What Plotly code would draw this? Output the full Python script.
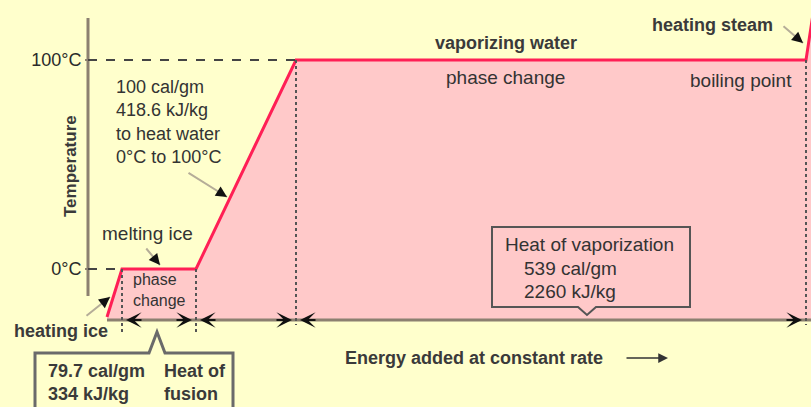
import math
import plotly.graph_objects as go

# ---------------- data ----------------
stages = ["heating ice", "melting ice", "heating water", "vaporizing water", "heating steam"]
energy = [0, 15, 89, 189, 699, 706]          # cumulative energy added (schematic units)
temperature = [-23, 0, 0, 100, 100, 122]     # °C
tick_vals = [0, 100]
tick_text = ["0°C", "100°C"]
base_temp = -24.4                            # level of the energy axis

# ---------------- style / layout ----------------
W, H = 811, 407
X_RANGE = [-107, 704]
Y_RANGE = [-66.03, 128.71]
CREAM = "#FFFFCC"
PINK = "#FFC9C9"
RED = "#FF1F55"
AXIS = "#8C8070"
TXT = "#333333"
FONT = "Liberation Sans, Arial, sans-serif"


def ex(px):
    return X_RANGE[0] + px * (X_RANGE[1] - X_RANGE[0]) / W


def ty(py):
    return Y_RANGE[1] - py * (Y_RANGE[1] - Y_RANGE[0]) / H


def to_px(e):
    return (e - X_RANGE[0]) * W / (X_RANGE[1] - X_RANGE[0])


fig = go.Figure()

# pink area under the curve
fig.add_trace(go.Scatter(
    x=energy + [energy[-1], energy[0]],
    y=temperature + [base_temp, base_temp],
    fill="toself", fillcolor=PINK, mode="lines",
    line=dict(width=0), hoverinfo="skip", showlegend=False))

shapes = []
ann = []

# axes lines
shapes.append(dict(type="line", xref="x", yref="y", x0=ex(88), x1=ex(88), y0=ty(18), y1=ty(296),
                   line=dict(color=AXIS, width=3)))
shapes.append(dict(type="line", xref="x", yref="y", x0=energy[0], x1=X_RANGE[1], y0=base_temp, y1=base_temp,
                   line=dict(color=AXIS, width=3)))

# dashed guides from temperature axis
shapes.append(dict(type="line", xref="x", yref="y", x0=ex(88), x1=energy[3], y0=tick_vals[1], y1=tick_vals[1],
                   line=dict(color="#444", width=2, dash="dash")))
shapes.append(dict(type="line", xref="x", yref="y", x0=ex(88), x1=energy[1], y0=tick_vals[0], y1=tick_vals[0],
                   line=dict(color="#444", width=2, dash="dash")))

# dotted verticals at stage boundaries
for i, low in [(1, ty(333)), (2, ty(333)), (3, ty(325)), (4, ty(325))]:
    shapes.append(dict(type="line", xref="x", yref="y", x0=energy[i], x1=energy[i],
                       y0=temperature[i], y1=low, line=dict(color="#555", width=2, dash="dot")))

# vaporization callout box
vb = [(492, 227), (690, 227), (690, 307), (596, 307), (587, 315), (578, 307), (492, 307)]
path = "M " + " L ".join(f"{ex(a):.2f},{ty(b):.2f}" for a, b in vb) + " Z"
shapes.append(dict(type="path", xref="x", yref="y", path=path, fillcolor=PINK,
                   line=dict(color="#555", width=2)))

# fusion callout box
fb = [(35, 440), (35, 353), (149, 353), (157, 332), (165, 353), (233, 353), (233, 440)]
path = "M " + " L ".join(f"{ex(a):.2f},{ty(b):.2f}" for a, b in fb)
shapes.append(dict(type="path", xref="x", yref="y", path=path, fillcolor=CREAM,
                   line=dict(color="#6a6a6a", width=3)))

# heating curve
fig.add_trace(go.Scatter(x=energy, y=temperature, mode="lines",
                         line=dict(color=RED, width=3), hoverinfo="skip", showlegend=False))


def text(px, py, s, size=18, bold=False, xanchor="center", align="center", color=TXT, angle=0):
    ann.append(dict(x=ex(px), y=ty(py), xref="x", yref="y", text=s, showarrow=False,
                    xanchor=xanchor, yanchor="middle", align=align, textangle=angle,
                    font=dict(family=FONT, size=size, color=color,
                              weight="bold" if bold else "normal")))


def pointer(hx, hy, tx, tyy):
    ann.append(dict(x=ex(hx), y=ty(hy), xref="x", yref="y", axref="pixel", ayref="pixel",
                    ax=tx - hx, ay=tyy - hy, text="", showarrow=True, arrowhead=0,
                    arrowwidth=2, arrowcolor="#b5ad98", standoff=0))
    d = math.hypot(tx - hx, tyy - hy)
    ux, uy = (tx - hx) / d, (tyy - hy) / d
    ann.append(dict(x=ex(hx), y=ty(hy), xref="x", yref="y", axref="pixel", ayref="pixel",
                    ax=ux * 12, ay=uy * 12, text="", showarrow=True, arrowhead=2,
                    arrowsize=1.1, arrowwidth=2, arrowcolor="#111", standoff=0))


def base_head(tip_px, direction):
    ann.append(dict(x=ex(tip_px), y=base_temp, xref="x", yref="y", axref="pixel", ayref="pixel",
                    ax=-direction * 17, ay=0, text="", showarrow=True, arrowhead=3,
                    arrowsize=1.3, arrowwidth=2, arrowcolor="#111", standoff=0))


# arrowheads along the energy axis for each stage span
for i in (1, 2, 3):
    a, b = to_px(energy[i]), to_px(energy[i + 1])
    base_head(a + 4, -1)
    base_head(b - 4, 1)

# labels
text(114, 122, "100 cal/gm<br>418.6 kJ/kg<br>to heat water<br>0°C to 100°C", size=18,
     xanchor="left", align="left")
pointer(227, 197, 187, 172)
text(147, 233, "melting ice", size=19)
pointer(160, 265, 145, 247)
text(131, 290, "phase<br>change", size=16, xanchor="left", align="left")
text(61, 331, "heating ice", size=18, bold=True, color="#3a3a3a")
pointer(110, 297, 85, 317)
text(506, 43, "vaporizing water", size=18, bold=True, color="#3a3a3a")
text(505, 77, "phase change", size=19)
text(741, 80, "boiling point", size=19)
text(712, 25, "heating steam", size=18, bold=True, color="#3a3a3a")
pointer(803, 43, 782, 25)
text(589, 244, "Heat of vaporization", size=19)
text(570, 268, "539 cal/gm", size=19)
text(570, 291, "2260 kJ/kg", size=19)
text(46, 382, "79.7 cal/gm<br>334 kJ/kg", size=18, bold=True, xanchor="left", align="left", color="#3a3a3a")
text(162, 382, "Heat of<br>fusion", size=18, bold=True, xanchor="left", align="left", color="#3a3a3a")
text(343, 358, "Energy added at constant rate", size=18, bold=True, xanchor="left", color="#3a3a3a")
ann.append(dict(x=ex(668), y=ty(358), xref="x", yref="y", axref="pixel", ayref="pixel",
                ax=-43, ay=0, text="", showarrow=True, arrowhead=2, arrowsize=1.3,
                arrowwidth=1.5, arrowcolor="#333", standoff=0))
text(70, 166, "Temperature", size=17, bold=True, color="#3a3a3a", angle=-90)

fig.update_layout(
    width=W, height=H, margin=dict(l=0, r=0, t=0, b=0),
    paper_bgcolor=CREAM, plot_bgcolor=CREAM,
    xaxis=dict(range=X_RANGE, visible=False, fixedrange=True),
    yaxis=dict(range=Y_RANGE, tickvals=tick_vals, ticktext=tick_text, showgrid=False,
               zeroline=False, showline=False, ticks="outside", ticklen=3, tickwidth=2,
               tickcolor=AXIS, anchor="free", position=88 / W,
               tickfont=dict(family=FONT, size=18, color="#2a2a2a"), fixedrange=True),
    shapes=shapes, annotations=ann, showlegend=False,
)

fig.write_html("out.html", config={"displayModeBar": False},
               post_script="document.body.style.margin='0px';document.body.style.background='" + CREAM + "';")
